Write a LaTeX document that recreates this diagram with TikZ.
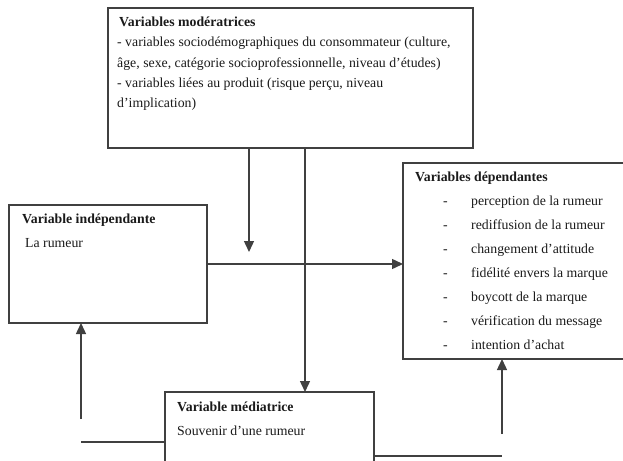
\documentclass[tikz,border=0pt]{standalone}
\usepackage{fontspec}
\setmainfont{Liberation Serif}
\usetikzlibrary{arrows.meta,calc}
\definecolor{ink}{HTML}{1A1A1A}
\definecolor{rule}{HTML}{404040}
\begin{document}
\begin{tikzpicture}[x=1pt,y=-1pt,
  box/.style={draw=rule,line width=1.4pt,rectangle,inner sep=0pt,outer sep=0pt,anchor=north west},
  txt/.style={anchor=base west,inner sep=0pt,text=ink,font=\fontsize{13.8}{16}\selectfont},
  ttl/.style={txt,font=\fontsize{13.8}{16}\selectfont\bfseries},
  link/.style={draw=rule,line width=1.4pt},
  arr/.style={link,-{Triangle[length=11pt,width=10pt]}}]
\useasboundingbox (0,0) rectangle (623,460);

% boxes
\node[box,minimum width=365pt,minimum height=140pt] (mod) at (108,8) {};
\node[box,minimum width=198pt,minimum height=118pt] (ind) at (9,205) {};
\node[box,minimum width=224pt,minimum height=196pt] (dep) at (403,163) {};
\node[box,minimum width=209pt,minimum height=90pt] (med) at (165,392) {};

% moderating variables
\node[ttl] (modt) at (119,27) {Variables modératrices};
\node[txt] (mod1) at (117,47) {- variables sociodémographiques du consommateur (culture,};
\node[txt] (mod2) at (117,67) {âge, sexe, catégorie socioprofessionnelle, niveau d’études)};
\node[txt] (mod3) at (117,87) {- variables liées au produit (risque perçu, niveau};
\node[txt] (mod4) at (117,107) {d’implication)};

% independent variable
\node[ttl] (indt) at (22,223) {Variable indépendante};
\node[txt] (ind1) at (25,247) {La rumeur};

% dependent variables
\node[ttl] (dept) at (415,181) {Variables dépendantes};
\foreach \i/\t in {0/perception de la rumeur,1/rediffusion de la rumeur,2/changement d’attitude,
                   3/fidélité envers la marque,4/boycott de la marque,5/vérification du message,
                   6/intention d’achat}{
  \node[txt] (dd\i) at (443,{205+24*\i}) {-};
  \node[txt] (di\i) at (471,{205+24*\i}) {\t};
}

% mediating variable
\node[ttl] (medt) at (177,411) {Variable médiatrice};
\node[txt] (med1) at (177,435) {Souvenir d’une rumeur};

% free ends of the connectors
\coordinate (m1) at ($(mod.south west)+(141,0)$);
\coordinate (m1e) at ($(m1)+(0,104)$);
\coordinate (m2) at ($(mod.south west)+(197,0)$);
\coordinate (lb) at (81,419);
\coordinate (lh) at (81,442);
\coordinate (rb) at (502,434);
\coordinate (rh) at (502,456);

% connectors
\draw[arr] (ind.east) -- (ind.east -| dep.west);
\draw[arr] (m1) -- (m1e);
\draw[arr] (m2) -- (m2 |- med.north);
\draw[arr] (lb) -- (lb |- ind.south);
\draw[link] (lh) -- (lh -| med.west);
\draw[arr] (rb) -- (rb |- dep.south);
\draw[link] (rh -| med.east) -- (rh);
\end{tikzpicture}
\end{document}
